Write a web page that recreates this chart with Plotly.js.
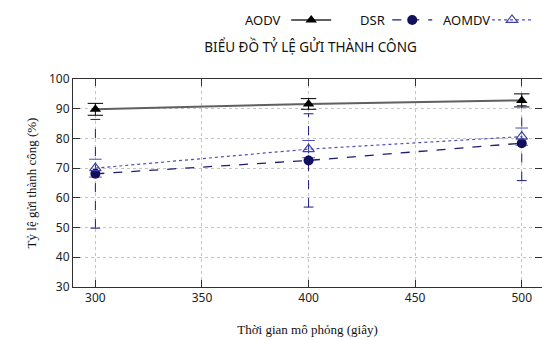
<!DOCTYPE html>
<html>
<head>
<meta charset="utf-8">
<script src="https://cdn.plot.ly/plotly-3.0.1.min.js"></script>
<style>
  html, body { margin: 0; padding: 0; background: #fff; }
  #chart { width: 542px; height: 340px; }
</style>
</head>
<body>
<div id="chart"></div>
<script>
// Simulation time (s)
const simTime = [300, 400, 500];

// Delivery ratio (%) and error-bar half widths per protocol
const aodvRatio = [89.8, 91.6, 92.8];
const aodvErr = [2.0, 1.8, 2.2];
const dsrRatio = [68.1, 72.6, 78.4];
const dsrErr = [18.3, 15.7, 12.6];
const aomdvRatio = [70.0, 76.4, 80.6];
const aomdvErr = [3.0, 2.9, 2.9];

const protocolNames = ['AODV', 'DSR', 'AOMDV'];
const yTicks = [30, 40, 50, 60, 70, 80, 90, 100];
const xTicks = [300, 350, 400, 450, 500];

// vertical error segments (low -> high) separated by gaps
function errSegments(xs, ys, es) {
  const x = [], y = [];
  xs.forEach((xv, i) => {
    x.push(xv, xv, null);
    y.push(ys[i] - es[i], ys[i] + es[i], null);
  });
  return { x, y };
}

const styles = [
  { line: '#606060', lw: 2, dash: 'solid', marker: '#000000', symbol: 'triangle-up', size: 10, err: '#000000', errDash: 'solid', cap: 11 },
  { line: '#1c1c78', lw: 1.3, dash: 'dash', marker: '#10105e', symbol: 'circle', size: 10, err: '#1c1c78', errDash: 'dash', cap: 7 },
  { line: '#5050b4', lw: 1.2, dash: 'dot', marker: '#4040a8', symbol: 'triangle-up-open', size: 10, err: '#5050b4', errDash: 'dot', cap: 9 }
];
const series = [
  [aodvRatio, aodvErr],
  [dsrRatio, dsrErr],
  [aomdvRatio, aomdvErr]
];
const legendIds = ['legend', 'legend2', 'legend3'];

const traces = [];
// error bars first so markers sit on top
series.forEach(([vals, errs], k) => {
  const s = styles[k];
  const seg = errSegments(simTime, vals, errs);
  traces.push({
    x: seg.x, y: seg.y, type: 'scatter', mode: 'lines+markers',
    line: { color: s.err, width: 1, dash: s.errDash },
    marker: { symbol: 'line-ew', size: s.cap, line: { color: s.err, width: 1 } },
    showlegend: false, hoverinfo: 'skip', connectgaps: false
  });
});
series.forEach(([vals], k) => {
  const s = styles[k];
  traces.push({
    x: simTime, y: vals, type: 'scatter', mode: 'lines+markers',
    name: protocolNames[k], legend: legendIds[k],
    line: { color: s.line, width: s.lw, dash: s.dash },
    marker: { color: s.marker, symbol: s.symbol, size: s.size,
              line: { color: s.marker, width: s.symbol.endsWith('open') ? 1.2 : 0 } },
    showlegend: true
  });
});

const sans = 'Noto Sans, Liberation Sans, sans-serif';
const serif = 'Liberation Serif, DejaVu Serif, serif';

// key labels sit to the left of each legend sample
const keyLabelX = [0.4478, 0.6695, 0.8934];
const annotations = protocolNames.map((n, i) => ({
  text: n, xref: 'paper', yref: 'paper', x: keyLabelX[i], y: 1.284,
  xanchor: 'right', yanchor: 'middle', showarrow: false,
  font: { family: sans, size: 13, color: '#111' }
}));

// one single-entry key per protocol, each placed on its own
const keyX = [0.4546, 0.6700, 0.8827];
function keyBox(x) {
  return {
    orientation: 'h', x: x, xanchor: 'left', y: 1.284, yanchor: 'middle',
    font: { family: sans, size: 1, color: '#fff' },
    bgcolor: 'rgba(0,0,0,0)', borderwidth: 0, itemwidth: 40
  };
}

const axisCommon = {
  showline: true, linecolor: '#303030', linewidth: 1, mirror: 'ticks',
  ticks: 'inside', ticklen: 7, tickcolor: '#303030', tickwidth: 1,
  showgrid: true, gridcolor: '#c4c4c4', griddash: 'dot', gridwidth: 1,
  zeroline: false, tickfont: { family: sans, size: 12, color: '#222' }
};

const layout = {
  width: 542, height: 340,
  margin: { l: 73, r: 0, t: 79, b: 53, autoexpand: false },
  paper_bgcolor: '#fff', plot_bgcolor: '#fff',
  title: {
    text: 'BIỂU ĐỒ TỶ LỆ GỬI THÀNH CÔNG',
    font: { family: sans, size: 13.5, color: '#111' },
    x: 0.573, xanchor: 'center', y: 0.862, yanchor: 'middle'
  },
  xaxis: Object.assign({}, axisCommon, {
    range: [289.5, 509.5], tickvals: xTicks,
    title: { text: 'Thời gian mô phỏng (giây)', font: { family: serif, size: 13, color: '#111' }, standoff: 19 }
  }),
  yaxis: Object.assign({}, axisCommon, {
    range: [30, 100], tickvals: yTicks,
    title: { text: 'Tỷ lệ gửi thành công (%)', font: { family: serif, size: 13, color: '#111' }, standoff: 9 }
  }),
  legend: keyBox(keyX[0]),
  legend2: keyBox(keyX[1]),
  legend3: keyBox(keyX[2]),
  annotations: annotations,
  showlegend: true
};

Plotly.newPlot('chart', traces, layout, { staticPlot: true, displayModeBar: false });
</script>
</body>
</html>
